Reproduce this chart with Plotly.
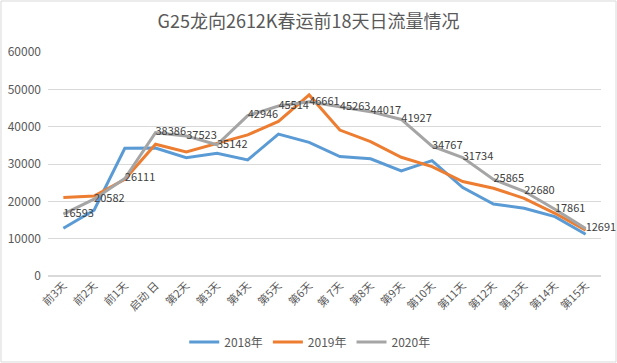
import plotly.graph_objects as go

categories = ["前3天", "前2天", "前1天", "启动日", "第2天", "第3天", "第4天", "第5天", "第6天",
              "第7天", "第8天", "第9天", "第10天", "第11天", "第12天", "第13天", "第14天", "第15天"]
tick_labels = ["前3天", "前2天", "前1天", "启动 日", "第2天", "第3天", "第4天", "第5天", "第6天",
               "第 7天", "第8天", "第9天", "第10天", "第11天", "第12天", "第13天", "第14天", "第15天"]
y2018 = [12800, 17600, 34200, 34300, 31700, 32900, 31100, 38000, 35800,
         32000, 31400, 28150, 30900, 23700, 19300, 18150, 15900, 11200]
y2019 = [21000, 21400, 25900, 35300, 33200, 35500, 37800, 41400, 48500,
         39100, 36000, 31800, 29300, 25300, 23500, 20800, 16800, 12300]
y2020 = [16593, 20582, 26111, 38386, 37523, 35142, 42946, 45514, 46661,
         45263, 44017, 41927, 34767, 31734, 25865, 22680, 17861, 12691]

FONT = "Noto Sans CJK SC"
fig = go.Figure()
fig.add_trace(go.Scatter(x=categories, y=y2018, mode="lines", name="2018年",
                         line=dict(color="#5B9BD5", width=3)))
fig.add_trace(go.Scatter(x=categories, y=y2019, mode="lines", name="2019年",
                         line=dict(color="#ED7D31", width=3)))
fig.add_trace(go.Scatter(x=categories, y=y2020, mode="lines+text", name="2020年",
                         line=dict(color="#A5A5A5", width=3), cliponaxis=False,
                         text=[str(v) for v in y2020], textposition="middle right",
                         textfont=dict(family=FONT, size=11, color="#404040")))

fig.update_layout(
    width=617, height=363,
    margin=dict(l=48, r=16, t=52, b=87),
    paper_bgcolor="white", plot_bgcolor="white",
    title=dict(text="G25龙向2612K春运前18天日流量情况", x=0.5, xanchor="center",
               y=0.94, yanchor="middle",
               font=dict(family=FONT, size=18, color="#595959")),
    font=dict(family=FONT, size=11, color="#595959"),
    xaxis=dict(type="category", range=[-0.5, 17.5], tickmode="array",
               tickvals=categories, ticktext=tick_labels, tickangle=-45,
               showgrid=False, showline=False, ticks="", automargin=False,
               tickfont=dict(family=FONT, size=11, color="#595959")),
    yaxis=dict(range=[0, 60000], dtick=10000, showgrid=True, gridcolor="#D9D9D9",
               gridwidth=1, zeroline=True, zerolinecolor="#D9D9D9", showline=False,
               ticks="", tickformat="d", ticklabelstandoff=6, automargin=False,
               tickfont=dict(family=FONT, size=12, color="#595959")),
    showlegend=True,
    legend=dict(orientation="h", xref="container", yref="container",
                x=0.502, xanchor="center", y=1 - 342 / 363, yanchor="middle",
                font=dict(family=FONT, size=12, color="#595959"),
                itemwidth=30, tracegroupgap=0, bgcolor="rgba(0,0,0,0)"),
)
fig.add_shape(type="rect", xref="paper", yref="paper",
              x0=-47/553, x1=1 + 15/553, y0=-86/224, y1=1 + 51/224,
              line=dict(color="#D9D9D9", width=1), fillcolor="rgba(0,0,0,0)", layer="below")
fig.write_html("out.html", config={"displayModeBar": False},
               post_script="document.body.style.margin='0';")
